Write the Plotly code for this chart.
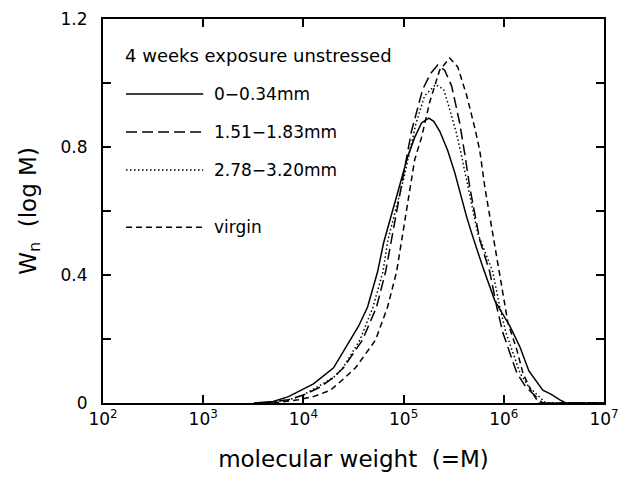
import plotly.graph_objects as go

# ---- data (molecular weight M, Wn(log M)) ----
m_solid = [3.2e3, 5.0e3, 7.1e3, 9.3e3, 1.26e4, 2.0e4, 2.75e4, 3.55e4, 4.37e4, 5.5e4,
           6.31e4, 7.59e4, 9.12e4, 1.1e5, 1.29e5, 1.51e5, 1.78e5, 2.0e5, 2.29e5, 2.75e5,
           3.24e5, 3.72e5, 4.27e5, 4.9e5, 6.17e5, 8.13e5, 1.15e6, 1.45e6, 1.78e6, 2.45e6,
           2.95e6, 3.63e6, 4.17e6, 1.0e7]
w_solid = [0.0, 0.005, 0.02, 0.04, 0.06, 0.11, 0.18, 0.24, 0.30, 0.41,
           0.50, 0.59, 0.675, 0.77, 0.83, 0.875, 0.89, 0.88, 0.85, 0.79,
           0.72, 0.65, 0.58, 0.52, 0.425, 0.32, 0.24, 0.175, 0.10, 0.04,
           0.028, 0.01, 0.0, 0.0]

m_long = [4.0e3, 7.1e3, 1.0e4, 1.48e4, 2.0e4, 2.51e4, 3.89e4, 5.37e4, 6.61e4, 7.59e4,
          8.91e4, 1.2e5, 1.55e5, 1.86e5, 2.19e5, 2.57e5, 3.02e5, 3.63e5, 4.07e5,
          4.57e5, 5.75e5, 7.24e5, 8.51e5, 9.77e5, 1.15e6, 1.35e6, 1.66e6, 2.09e6,
          2.45e6, 1.0e7]
w_long = [0.0, 0.01, 0.025, 0.05, 0.08, 0.11, 0.197, 0.30, 0.41, 0.51,
          0.63, 0.85, 0.98, 1.03, 1.056, 1.04, 0.99, 0.875, 0.78,
          0.675, 0.51, 0.41, 0.30, 0.22, 0.156, 0.094, 0.05, 0.02,
          0.0, 0.0]

m_dot = [4.0e3, 7.1e3, 1.0e4, 1.38e4, 2.0e4, 2.48e4, 3.67e4, 4.95e4, 6.22e4, 6.98e4,
         1.0e5, 1.32e5, 1.62e5, 2.09e5, 2.51e5, 2.75e5, 3.39e5, 3.8e5, 5.5e5,
         7.76e5, 9.12e5, 1.05e6, 1.23e6, 1.45e6, 1.78e6, 2.24e6, 2.63e6, 1.0e7]
w_dot = [0.0, 0.01, 0.025, 0.05, 0.08, 0.11, 0.197, 0.30, 0.41, 0.51,
         0.70, 0.87, 0.96, 0.995, 0.98, 0.94, 0.84, 0.77, 0.53,
         0.41, 0.30, 0.22, 0.156, 0.094, 0.05, 0.02, 0.0, 0.0]

m_virgin = [5.0e3, 8.9e3, 1.26e4, 1.86e4, 2.51e4, 3.31e4, 5.25e4, 6.92e4, 8.51e4, 9.55e4,
            1.12e5, 1.29e5, 1.51e5, 1.82e5, 2.29e5, 2.88e5, 3.47e5, 4.27e5, 5.13e5,
            5.75e5, 6.46e5, 7.76e5, 9.33e5, 1.1e6, 1.35e6, 1.55e6, 1.86e6, 2.24e6, 1.0e7]
w_virgin = [0.0, 0.01, 0.02, 0.04, 0.075, 0.11, 0.197, 0.30, 0.41, 0.51,
            0.64, 0.76, 0.83, 0.94, 1.04, 1.078, 1.05, 0.96, 0.86,
            0.79, 0.675, 0.53, 0.375, 0.25, 0.166, 0.094, 0.04, 0.0, 0.0]

legend_title = "4 weeks exposure unstressed"
labels = ["0\u22120.34mm", "1.51\u22121.83mm", "2.78\u22123.20mm", "virgin"]
dashes = ["solid", "11px,5px", "1.5px,2.5px", "6px,4px"]

x_tickvals = [1e2, 1e3, 1e4, 1e5, 1e6, 1e7]
x_ticktext = ["10<sup>2</sup>", "10<sup>3</sup>", "10<sup>4</sup>",
              "10<sup>5</sup>", "10<sup>6</sup>", "10<sup>7</sup>"]
y_tickvals = [0, 0.4, 0.8, 1.2]
y_ticktext = ["0", "0.4", "0.8", "1.2"]

FONT = "DejaVu Sans"

fig = go.Figure()
series = [(m_solid, w_solid), (m_long, w_long), (m_dot, w_dot), (m_virgin, w_virgin)]
for (mx, wy), lab, d in zip(series, labels, dashes):
    fig.add_trace(go.Scatter(x=mx, y=wy, mode="lines", name=lab,
                             line=dict(color="black", width=1.5, dash=d),
                             showlegend=False))

# hand-drawn legend (paper coordinates)
leg_y = [0.805, 0.706, 0.607, 0.458]
for yy, lab, d in zip(leg_y, labels, dashes):
    fig.add_shape(type="line", xref="paper", yref="paper", x0=0.046, x1=0.200,
                  y0=yy, y1=yy, line=dict(color="black", width=1.5, dash=d))
    fig.add_annotation(xref="paper", yref="paper", x=0.218, y=yy, text=lab,
                       showarrow=False, xanchor="left", yanchor="middle",
                       font=dict(family=FONT, size=17, color="black"))
fig.add_annotation(xref="paper", yref="paper", x=0.040, y=0.904, text=legend_title,
                   showarrow=False, xanchor="left", yanchor="middle",
                   font=dict(family=FONT, size=18, color="black"))

fig.update_layout(
    width=620, height=479,
    margin=dict(l=103, r=16, t=19, b=76),
    paper_bgcolor="white", plot_bgcolor="white",
    font=dict(family=FONT, size=16, color="black"),
)
fig.update_xaxes(type="log", range=[2, 7], tickvals=x_tickvals, ticktext=x_ticktext,
                 automargin=False,
                 ticks="inside", ticklen=8, tickwidth=1.5, tickcolor="black",
                 showline=True, linecolor="black", linewidth=2, mirror="ticks",
                 showgrid=False, zeroline=False,
                 tickfont=dict(family=FONT, size=17),
                 title=dict(text="molecular weight  (=M)", standoff=22,
                            font=dict(family=FONT, size=23)))
fig.update_yaxes(range=[0, 1.2], tickvals=y_tickvals, ticktext=y_ticktext,
                 automargin=False,
                 ticks="inside", ticklen=8, tickwidth=1.5, tickcolor="black",
                 minor=dict(tickvals=[0.2, 0.6, 1.0], ticks="inside", ticklen=8,
                            tickwidth=1.5, tickcolor="black"),
                 showline=True, linecolor="black", linewidth=2, mirror="ticks",
                 showgrid=False, zeroline=False, ticklabelstandoff=10,
                 tickfont=dict(family=FONT, size=17),
                 title=dict(text="W<sub>n</sub>  (log M)", standoff=18,
                            font=dict(family=FONT, size=23)))

fig.write_html("out.html")
